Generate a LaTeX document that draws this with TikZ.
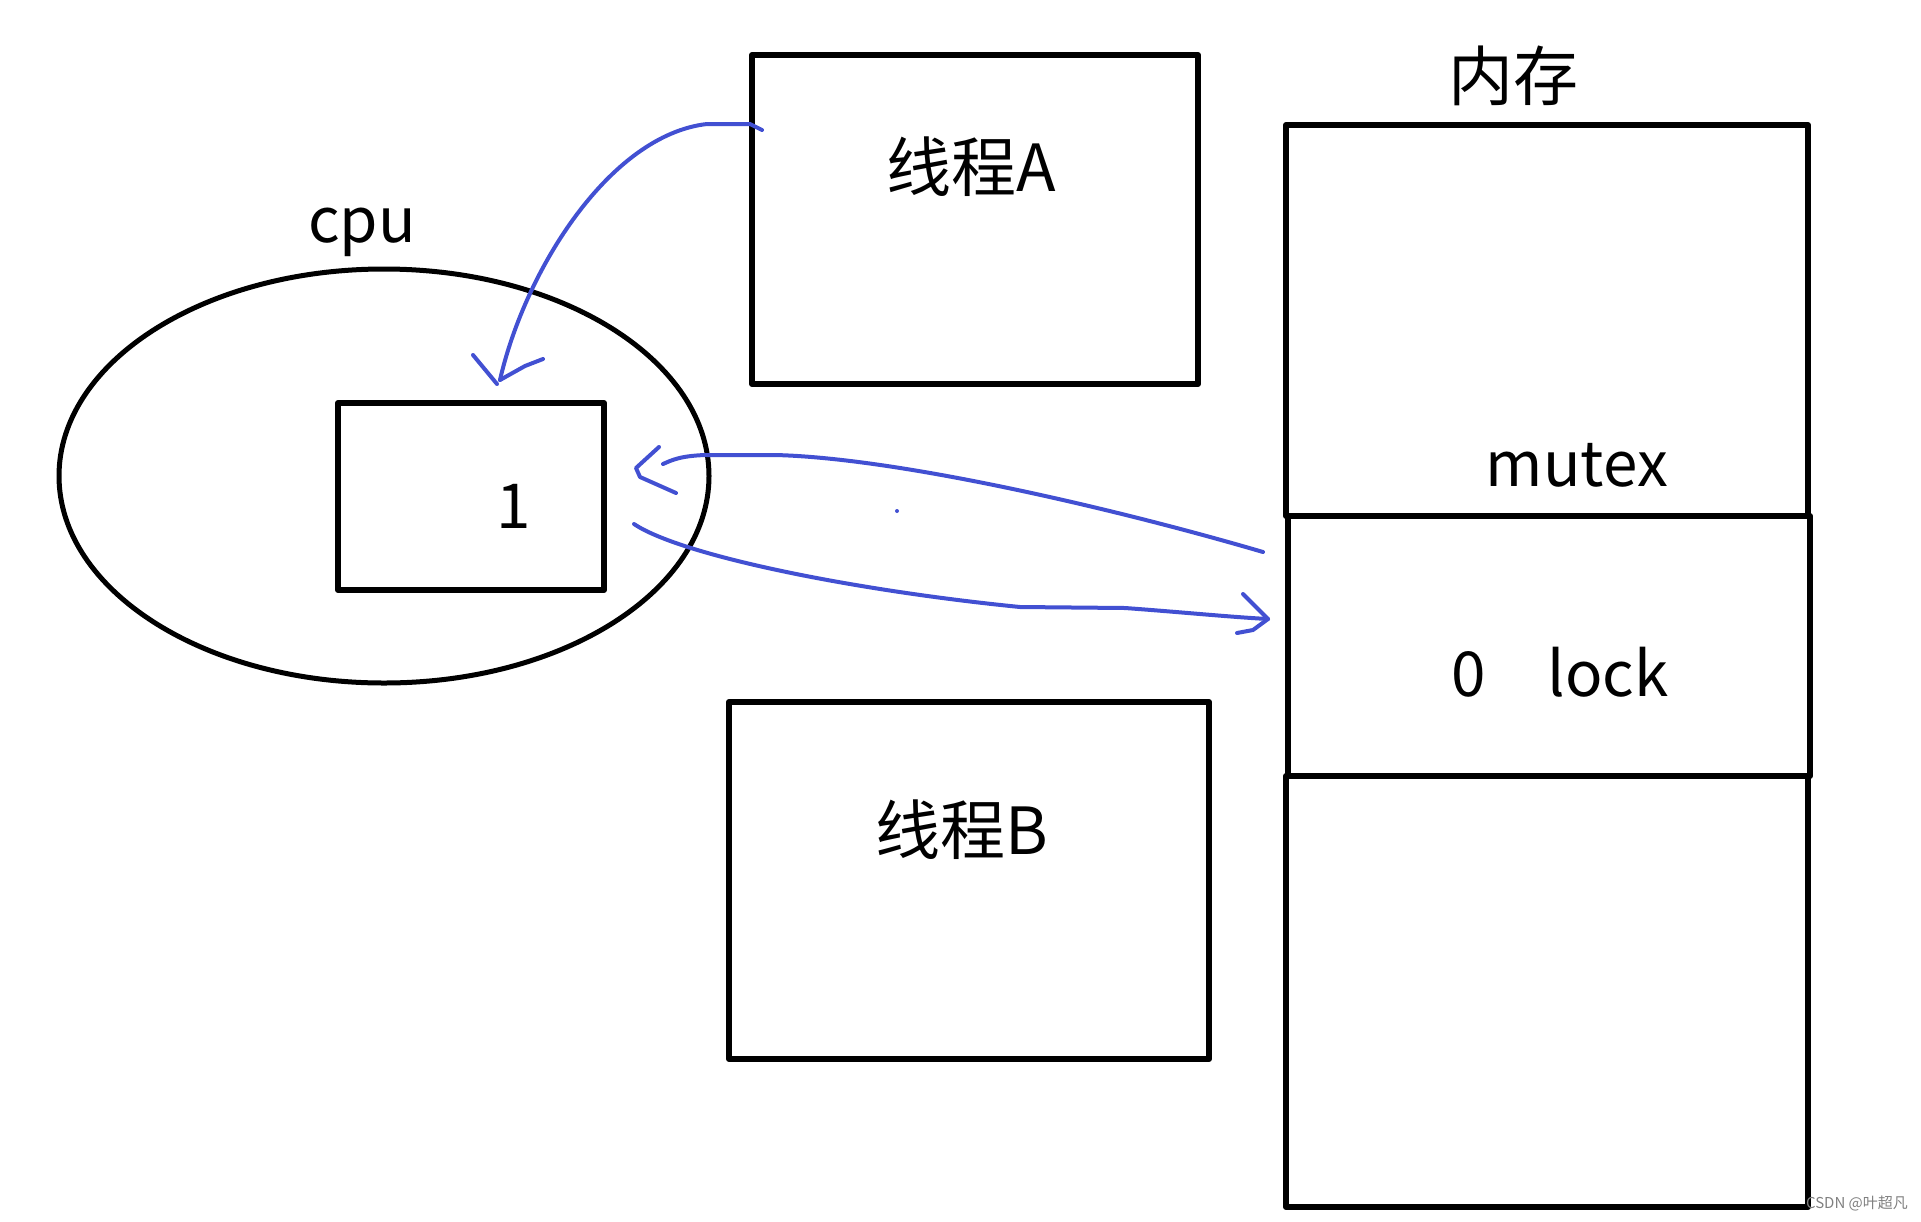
\documentclass[tikz,border=0pt]{standalone}
\usepackage{fontspec}
\setmainfont{Noto Sans CJK SC}
\usetikzlibrary{shapes.geometric}
\definecolor{pen}{RGB}{66,80,210}
\begin{document}
\begin{tikzpicture}[x=1pt, y=-1pt, line join=round, line cap=round,
	font=\fontsize{65}{80}\selectfont,
	box/.style={draw, line width=6pt, inner sep=0pt, rectangle},
	word/.style={anchor=base, font=\fontsize{62}{76}\selectfont},
	ink/.style={pen, line width=4pt}]
	\useasboundingbox (0,0) rectangle (1921,1221);
	% cpu and its register
	\node[box, ellipse, line width=5pt, minimum width=650pt, minimum height=414pt] (cpu) at (384,476) {};
	\node[box, minimum width=266pt, minimum height=187pt] (reg) at (471,496.5) {};
	\node[word] (cpulbl) at (362,242) {cpu};
	\node[word] (regval) at (514,528) {1};
	% threads
	\node[box, minimum width=446pt, minimum height=329pt] (thA) at (975,219.5) {};
	\node[box, minimum width=480pt, minimum height=357pt] (thB) at (969,880.5) {};
	\node (thAlbl) at (971,167) {线程A};
	\node (thBlbl) at (962,830) {线程B};
	% memory
	\node[box, minimum width=522pt, minimum height=391pt] (memtop) at (1547,320.5) {};
	\node[box, minimum width=522pt, minimum height=260pt] (memlock) at (1549,646) {};
	\node[box, minimum width=522pt, minimum height=431pt] (membot) at (1547,991.5) {};
	\node (memlbl) at (1513,76) {内存};
	\node[word] (mutex) at (1577,486) {mutex};
	\node[word] (lockval) at (1469,696) {0};
	\node[word] (lockname) at (1608,696) {lock};
	\path
	(762,130) coordinate (fromA)
	(707,124) coordinate (bendA)
	(500,380) coordinate (toReg)
	(1263,552) coordinate (fromLock)
	(775,455) coordinate (bendL1)
	(705,455) coordinate (bendL2)
	(663,464) coordinate (toRegL)
	(634,524) coordinate (fromReg)
	(1020,607) coordinate (bendR1)
	(1125,608) coordinate (bendR2)
	(1268,619) coordinate (toLock)
	;
	% thread A loads into the register
	\draw[ink] (fromA) -- (750,124) -- (bendA) .. controls (610,135) and (525,270) .. (toReg);
	\draw[ink] (473,355) -- (497,384) (543,359) -- (525,366) -- (toReg);
	% exchange with lock
	\draw[ink] (fromLock) .. controls (1120,510) and (900,458) .. (bendL1) -- (bendL2) .. controls (680,456) and (672,460) .. (toRegL);
	\draw[ink] (659,447) -- (636,468) -- (640,477) -- (676,493);
	\draw[ink] (fromReg) .. controls (680,555) and (850,590) .. (bendR1) -- (bendR2) .. controls (1180,612) and (1230,617) .. (toLock);
	\draw[ink] (1243,594) -- (toLock) -- (1253,630) -- (1237,633);
	\fill[pen] (897,511) circle (2pt);
	\node[gray, font=\fontsize{15}{18}\selectfont] (mark) at (1857,1203) {CSDN @叶超凡};
\end{tikzpicture}
\end{document}
